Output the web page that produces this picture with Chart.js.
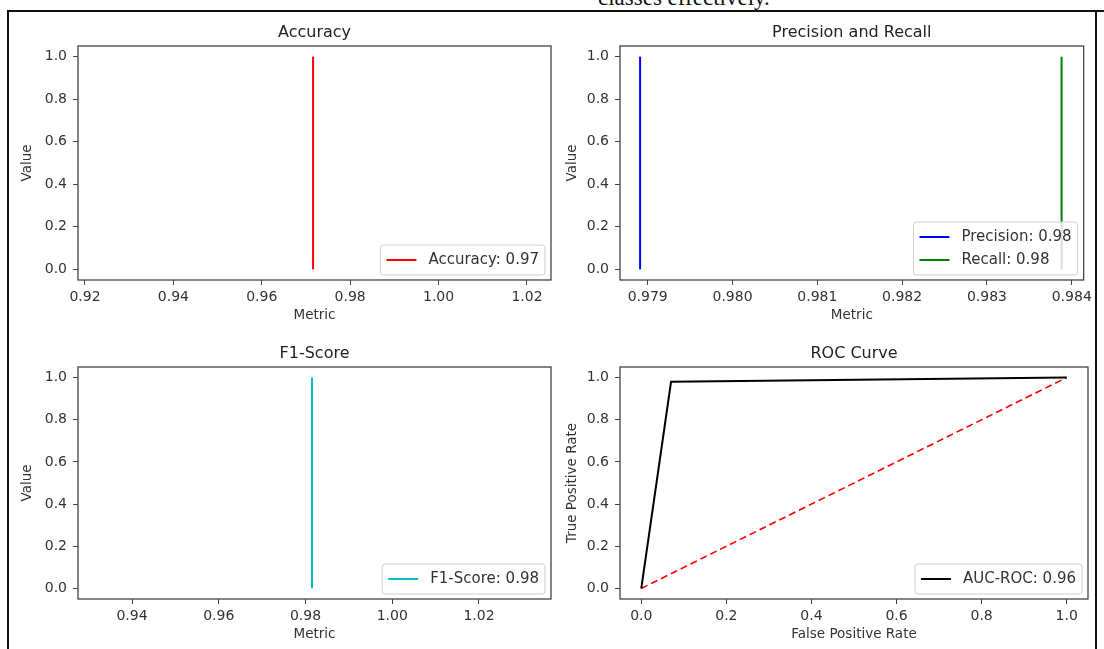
<!DOCTYPE html>
<html>
<head>
<meta charset="utf-8">
<script src="https://cdn.jsdelivr.net/npm/chart.js@4.4.0/dist/chart.umd.min.js"></script>
<style>
  html,body{margin:0;padding:0;background:#fff;}
  body{width:1104px;height:649px;position:relative;overflow:hidden;}
  canvas{position:absolute;}
  .rule{position:absolute;background:#111;}
  #caption{position:absolute;left:598px;top:-14px;font:23px 'Liberation Serif','Times New Roman',serif;line-height:23px;color:#111;white-space:nowrap;}
</style>
</head>
<body>
<div id="caption">classes effectively.</div>
<div class="rule" style="left:7px;top:10px;width:1097px;height:2px"></div>
<div class="rule" style="left:7px;top:10px;width:2px;height:639px"></div>
<div class="rule" style="left:1095px;top:10px;width:2px;height:639px"></div>
<canvas id="acc" width="548" height="320" style="left:10px;top:12px"></canvas>
<canvas id="pr" width="536" height="320" style="left:560px;top:12px"></canvas>
<canvas id="f1" width="548" height="317" style="left:10px;top:332px"></canvas>
<canvas id="roc" width="536" height="317" style="left:560px;top:332px"></canvas>
<script>
// values
const lineY = [0, 1];
const accuracyX = [0.9716, 0.9716];
const precisionX = [0.97891, 0.97891];
const recallX = [0.98388, 0.98388];
const f1X = [0.9815, 0.9815];
const rocFpr = [0, 0.07, 1];
const rocTpr = [0, 0.98, 1];
const chanceFpr = [0, 1];
const chanceTpr = [0, 1];

const accTicks = [0.92, 0.94, 0.96, 0.98, 1.00, 1.02];
const prTicks = [0.979, 0.980, 0.981, 0.982, 0.983, 0.984];
const f1Ticks = [0.94, 0.96, 0.98, 1.00, 1.02];
const rateTicks = [0, 0.2, 0.4, 0.6, 0.8, 1.0];
const valueTicks = [0, 0.2, 0.4, 0.6, 0.8, 1.0];

const titles = ['Accuracy', 'Precision and Recall', 'F1-Score', 'ROC Curve'];
const legendLabels = ['Accuracy: 0.97', 'Precision: 0.98', 'Recall: 0.98', 'F1-Score: 0.98', 'AUC-ROC: 0.96'];

const pts = (xs, ys) => xs.map((x, i) => ({x, y: ys[i]}));
const FONT = "'DejaVu Sans', sans-serif";
const TXT = '#333';
Chart.defaults.font.family = FONT;
Chart.defaults.color = TXT;

// frame, title and matplotlib-like legend
const panel = {
  id: 'panel',
  afterDatasetsDraw(chart, args, opts){
    const a = chart.chartArea, c = chart.ctx;
    c.save();
    c.strokeStyle = '#444'; c.lineWidth = 1.3;
    c.strokeRect(a.left, a.top, a.right - a.left, a.bottom - a.top);
    c.fillStyle = '#222'; c.font = '16px ' + FONT;
    c.textAlign = 'center'; c.textBaseline = 'middle';
    c.fillText(opts.title, (a.left + a.right) / 2, a.top - 13);
    // legend, lower right
    const items = chart.data.datasets.filter(d => d.label);
    const fs = 15, pad = 6, hl = 30, gap = 12, rh = 18, sp = 5;
    c.font = fs + 'px ' + FONT;
    const tw = Math.max(...items.map(d => c.measureText(d.label).width));
    const w = pad * 2 + hl + gap + tw;
    const h = pad * 2 + items.length * rh + (items.length - 1) * sp;
    const x0 = a.right - 6 - w, y0 = a.bottom - 5 - h;
    c.beginPath(); c.roundRect(x0, y0, w, h, 3);
    c.fillStyle = 'rgba(255,255,255,0.8)'; c.fill();
    c.strokeStyle = '#d0d0d0'; c.lineWidth = 1; c.stroke();
    c.textAlign = 'left';
    items.forEach((d, i) => {
      const cy = y0 + pad + i * (rh + sp) + rh / 2;
      c.strokeStyle = d.borderColor; c.lineWidth = 2;
      c.beginPath(); c.moveTo(x0 + pad, cy); c.lineTo(x0 + pad + hl, cy); c.stroke();
      c.fillStyle = TXT;
      c.fillText(d.label, x0 + pad + hl + gap, cy + 0.5);
    });
    c.restore();
  }
};

function makeChart(id, cfg){
  const tick = {color: TXT, font: {size: 14}, autoSkip: false, maxRotation: 0};
  return new Chart(document.getElementById(id), {
    type: 'line',
    data: {datasets: cfg.datasets},
    plugins: [panel],
    options: {
      responsive: false, animation: false, devicePixelRatio: 1,
      layout: {padding: {top: cfg.top, left: 0, right: cfg.right, bottom: 0}},
      elements: {point: {radius: 0}, line: {borderWidth: 2, tension: 0}},
      plugins: {legend: {display: false}, tooltip: {enabled: false}, title: {display: false}, panel: {title: cfg.title}},
      scales: {
        x: {
          type: 'linear', min: cfg.xmin, max: cfg.xmax,
          afterBuildTicks: s => { s.ticks = cfg.xticks.map(v => ({value: v})); },
          afterFit: s => { s.height = cfg.xh; },
          ticks: Object.assign({padding: 4, callback: v => v.toFixed(cfg.xdec)}, tick),
          grid: {drawOnChartArea: false, drawTicks: true, tickLength: 5, color: '#444'},
          border: {display: false},
          title: {display: true, text: cfg.xlabel, color: TXT, font: {size: 13.5}, padding: {top: 0, bottom: cfg.xpb}}
        },
        y: {
          type: 'linear', min: -0.05, max: 1.05,
          afterBuildTicks: s => { s.ticks = valueTicks.map(v => ({value: v})); },
          afterFit: s => { s.width = cfg.yw; },
          ticks: Object.assign({padding: 6, callback: v => v.toFixed(1)}, tick),
          grid: {drawOnChartArea: false, drawTicks: true, tickLength: 5, color: '#444'},
          border: {display: false},
          title: {display: true, text: cfg.ylabel, color: TXT, font: {size: 13.5}, padding: {top: cfg.ypt, bottom: 0}}
        }
      }
    }
  });
}

makeChart('acc', {
  title: titles[0], top: 34, right: 7, yw: 68, xh: 52, xpb: 8, ypt: 9,
  xmin: 0.91842, xmax: 1.02543, xticks: accTicks, xdec: 2, xlabel: 'Metric', ylabel: 'Value',
  datasets: [{label: legendLabels[0], data: pts(accuracyX, lineY), borderColor: '#ff0000'}]
});
makeChart('pr', {
  title: titles[1], top: 34, right: 8, yw: 60, xh: 52, xpb: 8, ypt: 4,
  xmin: 0.978673, xmax: 0.98414, xticks: prTicks, xdec: 3, xlabel: 'Metric', ylabel: 'Value',
  datasets: [
    {label: legendLabels[1], data: pts(precisionX, lineY), borderColor: '#0000ff'},
    {label: legendLabels[2], data: pts(recallX, lineY), borderColor: '#008000'}
  ]
});
makeChart('f1', {
  title: titles[2], top: 35, right: 7, yw: 68, xh: 50, xpb: 6, ypt: 9,
  xmin: 0.92755, xmax: 1.0366, xticks: f1Ticks, xdec: 2, xlabel: 'Metric', ylabel: 'Value',
  datasets: [{label: legendLabels[3], data: pts(f1X, lineY), borderColor: '#00bfbf'}]
});
makeChart('roc', {
  title: titles[3], top: 35, right: 8, yw: 60, xh: 50, xpb: 6, ypt: 4,
  xmin: -0.05, xmax: 1.05, xticks: rateTicks, xdec: 1, xlabel: 'False Positive Rate', ylabel: 'True Positive Rate',
  datasets: [
    {label: legendLabels[4], data: pts(rocFpr, rocTpr), borderColor: '#000000'},
    {data: pts(chanceFpr, chanceTpr), borderColor: '#ff0000', borderDash: [7, 4], borderWidth: 1.6}
  ]
});
</script>
</body>
</html>
